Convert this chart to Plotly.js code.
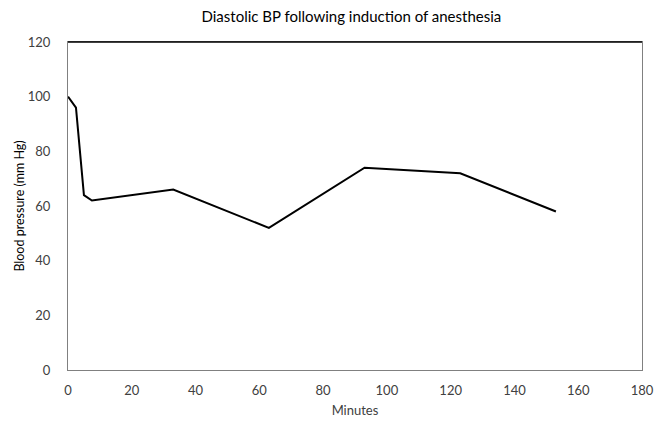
<!DOCTYPE html>
<html>
<head>
<meta charset="utf-8">
<script src="https://cdn.plot.ly/plotly-3.0.1.min.js"></script>
<style>html,body{margin:0;padding:0;background:#fff;}#chart{width:663px;height:428px;}</style>
</head>
<body>
<div id="chart"></div>
<script>
const minutes = [0, 2.5, 5, 7.5, 33, 63, 93, 123, 153];
const diastolicBP = [100, 96, 64, 62, 66, 52, 74, 72, 58];
const xTicks = [0, 20, 40, 60, 80, 100, 120, 140, 160, 180];
const yTicks = [0, 20, 40, 60, 80, 100, 120];

const font = "Lato, 'Open Sans', sans-serif";
const trace = {
  x: minutes, y: diastolicBP, type: 'scatter', mode: 'lines',
  line: {color: '#000000', width: 2}, hoverinfo: 'none'
};
const layout = {
  width: 663, height: 428,
  margin: {l: 68, r: 21, t: 42, b: 58},
  paper_bgcolor: '#ffffff', plot_bgcolor: '#ffffff',
  showlegend: false,
  font: {family: font, color: '#404040', size: 13},
  title: {text: 'Diastolic BP following induction of anesthesia', font: {family: font, size: 15, color: '#000000'}, x: 0.53, xanchor: 'center', y: 0.96, yanchor: 'middle'},
  xaxis: {
    range: [0, 180], tickvals: xTicks, ticktext: xTicks.map(String),
    showgrid: false, zeroline: false, showline: true, linecolor: '#808080', linewidth: 1, mirror: true,
    ticks: '', ticklabelstandoff: 8,
    tickfont: {family: font, size: 13, color: '#404040'},
    title: {text: 'Minutes', font: {family: font, size: 13, color: '#404040'}, standoff: 9}
  },
  yaxis: {
    range: [0, 120], tickvals: yTicks, ticktext: yTicks.map(String),
    showgrid: false, zeroline: false, showline: true, linecolor: '#808080', linewidth: 1, mirror: true,
    ticks: '', ticklabelstandoff: 14,
    tickfont: {family: font, size: 13, color: '#404040'},
    title: {text: 'Blood pressure (mm Hg)', font: {family: font, size: 12.5, color: '#000000'}, standoff: 0}
  },
  shapes: [{type: 'line', xref: 'paper', yref: 'paper', x0: 0, x1: 1, y0: 1, y1: 1, line: {color: '#000000', width: 1.5}}]
};
Plotly.newPlot('chart', [trace], layout, {staticPlot: true, displayModeBar: false});
</script>
</body>
</html>
